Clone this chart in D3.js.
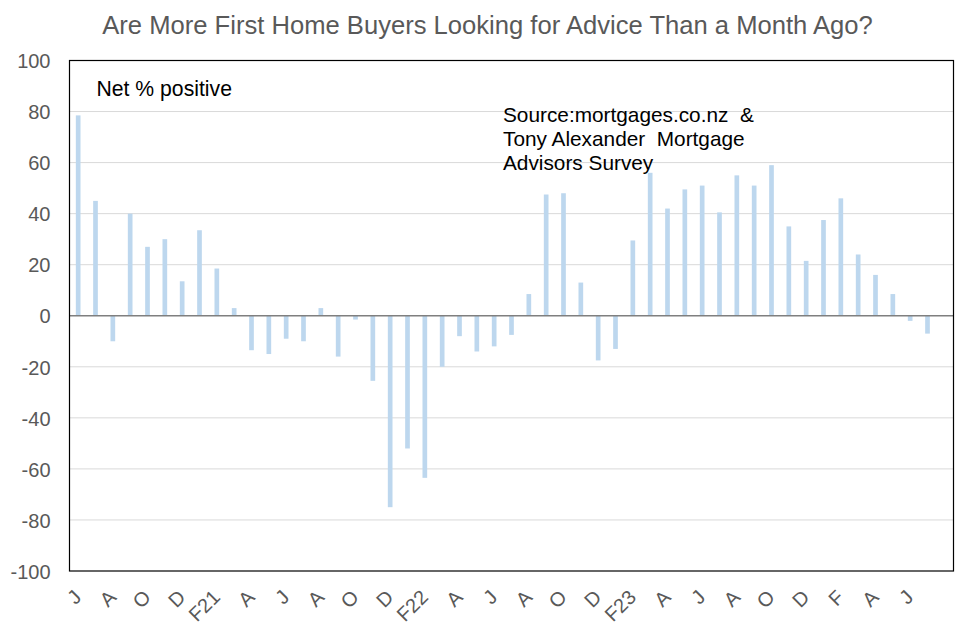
<!DOCTYPE html>
<html>
<head>
<meta charset="utf-8">
<title>First Home Buyers Looking for Advice</title>
<script src="https://cdn.jsdelivr.net/npm/d3@7"></script>
<style>
body { margin: 0; background: #fff; }
svg { display: block; font-family: "Liberation Sans", Arial, sans-serif; }
.ytick text, .xtick text { fill: #595959; }
</style>
</head>
<body>
<svg class="chart"></svg>
<script>

// monthly, Jun 2020 .. Aug 2024 (last month has no reading yet)
var months = ["J","J","A","S","O","N","D","J","F21","M","A","M","J","J","A","S","O","N","D",
	"J","F22","M","A","M","J","J","A","S","O","N","D","J","F23","M","A","M","J","J","A","S",
	"O","N","D","J","F","M","A","M","J","J",""];

// net % positive
var netPositive = [78.5, 45, -10, 40, 27, 30, 13.5, 33.5, 18.5, 3,
	-13.5, -15, -9, -10, 3, -16, -1.5, -25.5, -75, -52,
	-63.5, -20, -8, -14, -12, -7.5, 8.5, 47.5, 48, 13,
	-17.5, -13, 29.5, 56, 42, 49.5, 51, 40.5, 55, 51,
	59, 35, 21.5, 37.5, 46, 24, 16, 8.5, -2, -7];

var yTicks = [-100, -80, -60, -40, -20, 0, 20, 40, 60, 80, 100];

var title = "Are More First Home Buyers Looking for Advice Than a Month Ago?";
var sourceLines = ["Source:mortgages.co.nz  &", "Tony Alexander  Mortgage", "Advisors Survey"];

var W = 976, H = 636;
var plot = {left: 69.5, right: 953.5, top: 60.5, bottom: 571};

var svg = d3.select(".chart").attr("width", W).attr("height", H);

svg.append("rect").attr("width", W).attr("height", H).attr("fill", "#fff");

var x = d3.scaleBand()
	.domain(d3.range(months.length))
	.range([plot.left, plot.right])
	.paddingInner(0.73)
	.paddingOuter(0.365);

var y = d3.scaleLinear()
	.domain([-100, 100])
	.range([plot.bottom, plot.top]);

// gridlines
svg.append("g")
	.selectAll("line")
	.data(yTicks.filter(function(d){ return d !== 0 && d !== 100 && d !== -100; }))
	.enter().append("line")
	.attr("x1", plot.left).attr("x2", plot.right)
	.attr("y1", function(d){ return y(d); })
	.attr("y2", function(d){ return y(d); })
	.attr("stroke", "#d9d9d9")
	.attr("stroke-width", 1);

// bars
svg.append("g")
	.selectAll("rect")
	.data(netPositive)
	.enter().append("rect")
	.attr("x", function(d, i){ return x(i); })
	.attr("width", x.bandwidth())
	.attr("y", function(d){ return y(Math.max(0, d)); })
	.attr("height", function(d){ return Math.abs(y(d) - y(0)); })
	.attr("fill", "#bdd7ee");

// zero line
svg.append("line")
	.attr("x1", plot.left).attr("x2", plot.right)
	.attr("y1", y(0)).attr("y2", y(0))
	.attr("stroke", "#7f7f7f")
	.attr("stroke-width", 1.5);

// plot border
svg.append("rect")
	.attr("x", plot.left).attr("y", plot.top)
	.attr("width", plot.right - plot.left)
	.attr("height", plot.bottom - plot.top)
	.attr("fill", "none")
	.attr("stroke", "#000")
	.attr("stroke-width", 1.2);

// y axis labels (plain hyphen like the original)
var yAxis = d3.axisLeft(y)
	.tickValues(yTicks)
	.tickFormat(function(d){ return String(d); })
	.tickSize(0)
	.tickPadding(19);
svg.append("g")
	.attr("class", "ytick")
	.attr("transform", "translate(" + plot.left + ",0)")
	.call(yAxis)
	.call(function(g){ g.select(".domain").remove(); })
	.selectAll("text")
	.attr("font-size", 20)
	.attr("font-family", "Liberation Sans, Arial, sans-serif")
	.attr("dy", "0.36em");

// x axis labels, every other month
var xAxis = d3.axisBottom(x)
	.tickValues(d3.range(0, months.length, 2))
	.tickFormat(function(i){ return months[i]; })
	.tickSize(0);
svg.append("g")
	.attr("class", "xtick")
	.attr("transform", "translate(0," + plot.bottom + ")")
	.call(xAxis)
	.call(function(g){ g.select(".domain").remove(); })
	.selectAll("text")
	.attr("font-size", 20)
	.attr("font-family", "Liberation Sans, Arial, sans-serif")
	.style("text-anchor", "end")
	.attr("y", 0)
	.attr("dy", 0)
	.attr("transform", "translate(4.5,27.5) rotate(-45)");

// title
svg.append("text")
	.attr("x", 487.5).attr("y", 34)
	.attr("text-anchor", "middle")
	.attr("font-size", 25.6)
	.attr("fill", "#595959")
	.text(title);

svg.append("text")
	.attr("x", 96.5).attr("y", 96)
	.attr("font-size", 21.2)
	.attr("fill", "#000")
	.text("Net % positive");

svg.append("g")
	.selectAll("text")
	.data(sourceLines)
	.enter().append("text")
	.attr("x", 503)
	.attr("y", function(d, i){ return 122 + i * 24.2; })
	.attr("font-size", 20.8)
	.attr("fill", "#000")
	.style("white-space", "pre")
	.text(function(d){ return d; });

</script>
</body>
</html>
